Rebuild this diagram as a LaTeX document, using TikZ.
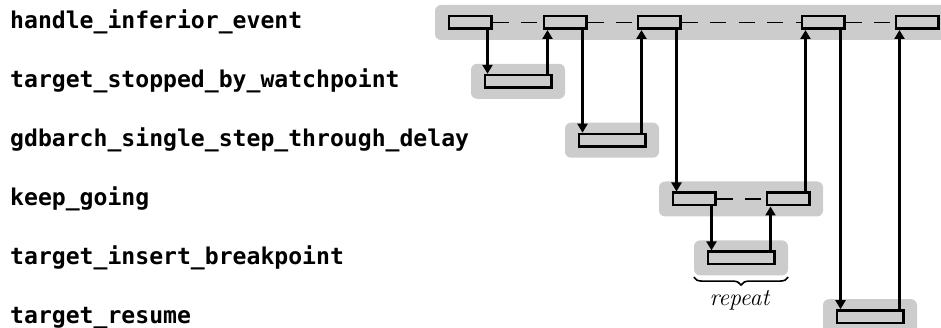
\documentclass[tikz,border=0pt]{standalone}
\usepackage{fontspec}
\newfontfamily\codefont{DejaVu Sans Mono}
\usetikzlibrary{arrows.meta,fit,backgrounds,decorations.pathreplacing}
\definecolor{bandgray}{RGB}{204,204,204}
\tikzset{
  fnlabel/.style={anchor=base west,inner sep=0pt,font=\codefont\bfseries\fontsize{23.1}{27}\selectfont},
  callbox/.style={draw=black,line width=2.5pt,fill=bandgray,minimum width=42.5pt,minimum height=12.5pt,inner sep=0pt},
  longbox/.style={callbox,minimum width=66.5pt},
  band/.style={fill=bandgray,rounded corners=6pt,inner xsep=12.5pt,inner ysep=10pt},
  callarrow/.style={line width=2.2pt,-{Triangle[width=10pt,length=9pt]}},
  gapline/.style={line width=1.4pt,dash pattern=on 16pt off 12.5pt},
}
\begin{document}
\begin{tikzpicture}[x=1pt,y=-1pt]
\useasboundingbox (0,0) rectangle (941,328);
\clip (0,0) rectangle (941,328);

% function names, one per call level
\node[fnlabel] (l1) at (10,29.0)  {handle\_inferior\_event};
\node[fnlabel] (l2) at (10,87.8)  {target\_stopped\_by\_watchpoint};
\node[fnlabel] (l3) at (10,146.7) {gdbarch\_single\_step\_through\_delay};
\node[fnlabel] (l4) at (10,205.5) {keep\_going};
\node[fnlabel] (l5) at (10,264.4) {target\_insert\_breakpoint};
\node[fnlabel] (l6) at (10,323.2) {target\_resume};

% activation boxes
\node[callbox] (t1) at (470,22.5) {};
\node[callbox] (t2) at (565,22.5) {};
\node[callbox] (t3) at (659,22.5) {};
\node[callbox] (t4) at (823,22.5) {};
\node[callbox] (t5) at (917,22.5) {};
\node[longbox] (w)   at (518,81.3)  {};
\node[longbox] (g)   at (612,140.2) {};
\node[callbox] (ka)  at (694,199.0) {};
\node[callbox] (kb)  at (788,199.0) {};
\node[longbox] (ins) at (741,257.9) {};
\node[longbox] (res) at (870,316.7) {};

% grey bands behind each level
\begin{scope}[on background layer]
  \node[band,fit=(t1)(t5)] (b1) {};
  \node[band,fit=(w)] (b2) {};
  \node[band,fit=(g)] (b3) {};
  \node[band,fit=(ka)(kb)] (b4) {};
  \node[band,fit=(ins)] (b5) {};
  \node[band,fit=(res)] (b6) {};
\end{scope}

% gaps within one activation
\draw[gapline] (t1.east) -- (t2.west);
\draw[gapline] (t2.east) -- (t3.west);
\draw[gapline] (t3.east) -- (t4.west);
\draw[gapline] (t4.east) -- (t5.west);
\draw[gapline] (ka.east) -- (kb.west);

% calls (down) and returns (up)
\draw[callarrow] ([xshift=-5pt]t1.south east) -- ([xshift=-5pt]t1.south east |- w.north);
\draw[callarrow] ([xshift=-5pt]w.north east) -- ([xshift=-5pt]w.north east |- t2.south);
\draw[callarrow] ([xshift=-5pt]t2.south east) -- ([xshift=-5pt]t2.south east |- g.north);
\draw[callarrow] ([xshift=-5pt]g.north east) -- ([xshift=-5pt]g.north east |- t3.south);
\draw[callarrow] ([xshift=-5pt]t3.south east) -- ([xshift=-5pt]t3.south east |- ka.north);
\draw[callarrow] ([xshift=-5pt]ka.south east) -- ([xshift=-5pt]ka.south east |- ins.north);
\draw[callarrow] ([xshift=-5pt]ins.north east) -- ([xshift=-5pt]ins.north east |- kb.south);
\draw[callarrow] ([xshift=-5pt]kb.north east) -- ([xshift=-5pt]kb.north east |- t4.south);
\draw[callarrow] ([xshift=-5pt]t4.south east) -- ([xshift=-5pt]t4.south east |- res.north);
\draw[callarrow] ([xshift=-5pt]res.north east) -- ([xshift=-5pt]res.north east |- t5.south);

% repeated insertion
\draw[line width=1.6pt,decorate,decoration={brace,amplitude=8pt}]
  (b5.south east) ++(0,1.5) coordinate (brR) (b5.south west) ++(0,1.5) coordinate (brL)
  (brR) -- (brL);
\node[font=\fontsize{24}{28}\selectfont\itshape,anchor=base] (rep) at (739.5,305.5) {repeat};
\end{tikzpicture}
\end{document}
